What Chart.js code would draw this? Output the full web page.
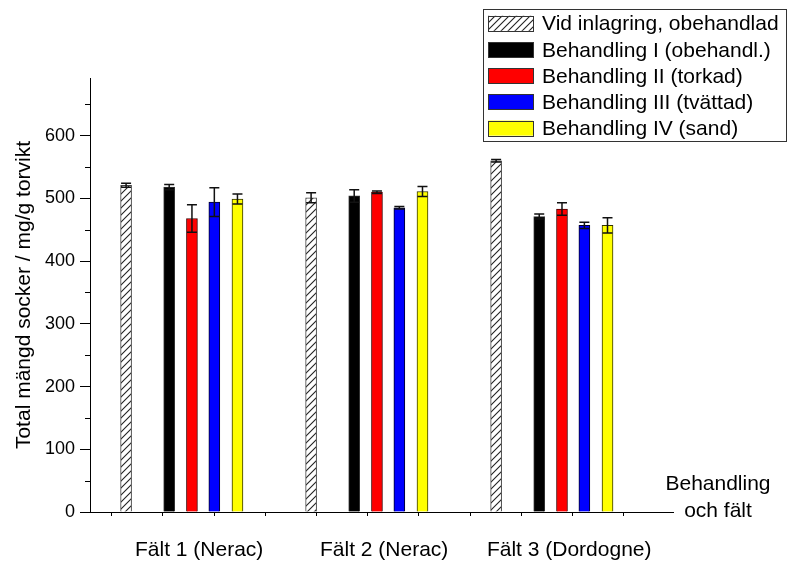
<!DOCTYPE html>
<html>
<head>
<meta charset="utf-8">
<script src="https://cdn.jsdelivr.net/npm/chart.js@4.4.1/dist/chart.umd.min.js"></script>
<style>
  body { margin: 0; background: #fff; }
  canvas { display: block; }
</style>
</head>
<body>
<canvas id="chart" width="787" height="561"></canvas>
<script>
const fields = ["Fält 1 (Nerac)", "Fält 2 (Nerac)", "Fält 3 (Dordogne)"];
const seriesNames = [
  "Vid inlagring, obehandlad",
  "Behandling I (obehandl.)",
  "Behandling II (torkad)",
  "Behandling III (tvättad)",
  "Behandling IV (sand)"
];
const storage = [521, 501, 560];
const storageErr = [3, 8, 2];
const treatI = [518, 504, 471];
const treatIErr = [4, 10, 4];
const treatII = [468, 510, 483];
const treatIIErr = [22, 2, 10];
const treatIII = [494, 485, 457];
const treatIIIErr = [23, 2, 5];
const treatIV = [499, 511, 457];
const treatIVErr = [8, 8, 12];
const yTicks = [0, 100, 200, 300, 400, 500, 600];

// layout (in "field" units: one field group = 1)
const barOffsets = [0.195, 0.428, 0.551, 0.672, 0.797];
const labelOffset = 0.59;
const FONT = '"Liberation Sans", Arial, sans-serif';

const canvas = document.getElementById("chart");
const ctx2d = canvas.getContext("2d");

function makeHatch(bg) {
  const c = document.createElement("canvas");
  c.width = 7;
  c.height = 7;
  const g = c.getContext("2d");
  g.fillStyle = bg;
  g.fillRect(0, 0, 7, 7);
  g.strokeStyle = "#222";
  g.lineWidth = 1.1;
  g.beginPath();
  g.moveTo(0, 7); g.lineTo(7, 0);
  g.moveTo(-1, 1); g.lineTo(1, -1);
  g.moveTo(6, 8); g.lineTo(8, 6);
  g.stroke();
  return ctx2d.createPattern(c, "repeat");
}

const hatch = makeHatch("#fff");
const values = [storage, treatI, treatII, treatIII, treatIV];
const errors = [storageErr, treatIErr, treatIIErr, treatIIIErr, treatIVErr];
const fills = [hatch, "#000000", "#ff0000", "#0000ff", "#ffff00"];
const edges = ["#444", "#333", "#400", "#002", "#330"];

const datasets = seriesNames.map((name, s) => ({
  label: name,
  data: values[s].map((v, g) => ({ x: g + barOffsets[s], y: v })),
  errors: errors[s],
  backgroundColor: fills[s],
  borderColor: edges[s],
  borderWidth: 1,
  barThickness: 11,
  grouped: false
}));

const labelPos = fields.map((f, g) => g + labelOffset);
const minorPos = [];
for (let k = 0; k <= 10; k++) minorPos.push(0.117 + 0.2768 * k);

function labelIndex(v) {
  return labelPos.findIndex(p => Math.abs(p - v) < 1e-6);
}

const errorBars = {
  id: "errorBars",
  afterDatasetsDraw(chart) {
    const ctx = chart.ctx;
    const y = chart.scales.y;
    ctx.save();
    ctx.strokeStyle = "#111";
    ctx.lineWidth = 1.5;
    chart.data.datasets.forEach((ds, i) => {
      chart.getDatasetMeta(i).data.forEach((bar, j) => {
        const v = ds.data[j].y;
        const e = ds.errors[j];
        const top = y.getPixelForValue(v + e);
        const bot = y.getPixelForValue(v - e);
        ctx.beginPath();
        ctx.moveTo(bar.x, top); ctx.lineTo(bar.x, bot);
        ctx.moveTo(bar.x - 5, top); ctx.lineTo(bar.x + 5, top);
        ctx.moveTo(bar.x - 5, bot); ctx.lineTo(bar.x + 5, bot);
        ctx.stroke();
      });
    });
    ctx.restore();
  }
};

const overlay = {
  id: "overlay",
  afterDraw(chart) {
    const ctx = chart.ctx;
    const y = chart.scales.y;
    const area = chart.chartArea;
    ctx.save();

    // minor ticks on the y axis
    ctx.strokeStyle = "#000";
    ctx.lineWidth = 1;
    ctx.beginPath();
    for (let v = 50; v < y.max; v += 100) {
      const py = Math.round(y.getPixelForValue(v)) + 0.5;
      ctx.moveTo(area.left - 5, py);
      ctx.lineTo(area.left, py);
    }
    ctx.stroke();

    // x axis caption at the right end
    ctx.fillStyle = "#000";
    ctx.font = "21px " + FONT;
    ctx.textAlign = "center";
    ctx.textBaseline = "alphabetic";
    ctx.fillText("Behandling", 718, 490);
    ctx.fillText("och fält", 718, 516.5);

    // legend box
    ctx.strokeStyle = "#333";
    ctx.lineWidth = 1;
    ctx.fillStyle = "#fff";
    ctx.fillRect(483.5, 9.5, 303, 132);
    ctx.strokeRect(483.5, 9.5, 303, 132);
    ctx.textAlign = "left";
    chart.data.datasets.forEach((ds, i) => {
      const cy = 23.3 + i * 26.2;
      ctx.fillStyle = ds.backgroundColor;
      ctx.fillRect(488, cy - 7.5, 45, 15);
      ctx.strokeStyle = "#333";
      ctx.strokeRect(488.5, Math.round(cy - 7.5) + 0.5, 45, 15);
      ctx.fillStyle = "#000";
      ctx.fillText(ds.label, 542, cy + 7);
    });
    ctx.restore();
  }
};

new Chart(canvas, {
  type: "bar",
  data: { datasets: datasets },
  plugins: [errorBars, overlay],
  options: {
    responsive: false,
    animation: false,
    devicePixelRatio: 1,
    layout: { padding: { top: 78, right: 114, bottom: 0, left: 0 } },
    plugins: {
      legend: { display: false },
      tooltip: { enabled: false }
    },
    scales: {
      x: {
        type: "linear",
        offset: false,
        min: 0,
        max: 3.151,
        afterBuildTicks: s => {
          s.ticks = minorPos.concat(labelPos).sort((a, b) => a - b).map(v => ({ value: v }));
        },
        afterFit: s => { s.height = 49; },
        ticks: {
          autoSkip: false,
          maxRotation: 0,
          padding: 22,
          color: "#000",
          font: { family: FONT, size: 21 },
          callback: v => {
            const i = labelIndex(v);
            return i >= 0 ? fields[i] : "";
          }
        },
        grid: {
          offset: false,
          drawOnChartArea: false,
          tickLength: 4,
          tickColor: c => (c.tick && labelIndex(c.tick.value) >= 0) ? "rgba(0,0,0,0)" : "#000"
        },
        border: { color: "#000", width: 1 }
      },
      y: {
        min: 0,
        max: 692,
        afterBuildTicks: s => { s.ticks = yTicks.map(v => ({ value: v })); },
        afterFit: s => { s.width = 90; },
        ticks: {
          padding: 5,
          color: "#000",
          font: { family: FONT, size: 18 }
        },
        grid: { drawOnChartArea: false, tickLength: 10, tickColor: "#000" },
        border: { color: "#000", width: 1 },
        title: {
          display: true,
          text: "Total mängd socker / mg/g torvikt",
          color: "#000",
          font: { family: FONT, size: 21 },
          padding: { top: 12, bottom: 0 }
        }
      }
    }
  }
});
</script>
</body>
</html>
